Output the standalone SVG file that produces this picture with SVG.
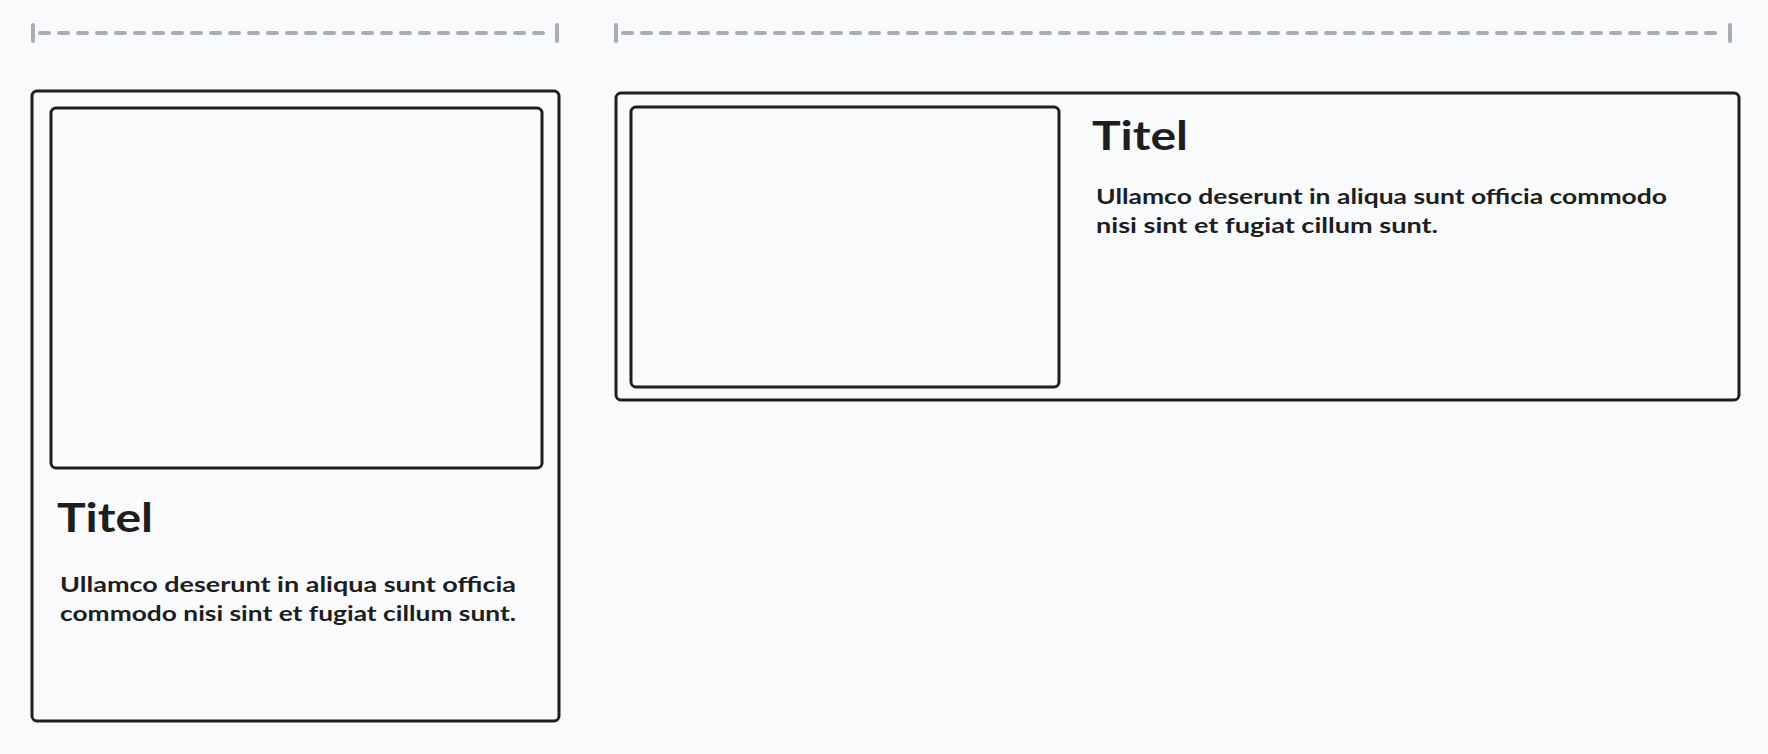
<svg xmlns="http://www.w3.org/2000/svg" width="1768" height="754" viewBox="0 0 1768 754">
<style>
.bg{fill:#f8fafc}
.card{fill:#f8fafc;stroke:#1e1e1e;stroke-width:3}
.dash{stroke:#a9adb4;stroke-width:4;stroke-linecap:round;stroke-dasharray:9 10;fill:none}
.tick{stroke:#a9adb4;stroke-width:4;stroke-linecap:round;fill:none}
.title{font-family:Lato,"Noto Sans",sans-serif;font-size:40px;font-weight:700;fill:#1e1e1e}
.body{font-family:Lato,"Noto Sans",sans-serif;font-size:21px;font-weight:700;fill:#1e1e1e}
</style>
<rect class="bg" x="0" y="0" width="1768" height="754"/>
<g id="connectors">
<g id="dim-left">
<line class="dash" x1="40" y1="33" x2="551" y2="33"/>
<line class="tick" x1="33" y1="25" x2="33" y2="41"/>
<line class="tick" x1="557" y1="25" x2="557" y2="41"/>
</g>
<g id="dim-right">
<line class="dash" x1="623" y1="33" x2="1724" y2="33"/>
<line class="tick" x1="616" y1="25" x2="616" y2="41"/>
<line class="tick" x1="1730" y1="25" x2="1730" y2="41"/>
</g>
</g>
<g id="card-vertical">
<rect class="card" x="32" y="91" width="527" height="630" rx="5"/>
<g id="card-vertical-image">
<rect class="card" x="51" y="108" width="491" height="360" rx="5"/>
</g>
<text class="title" x="57" y="532" textLength="96" lengthAdjust="spacingAndGlyphs">Titel</text>
<text class="body" x="60" y="592" textLength="456" lengthAdjust="spacingAndGlyphs">Ullamco deserunt in aliqua sunt officia</text>
<text class="body" x="60" y="621" textLength="456" lengthAdjust="spacingAndGlyphs">commodo nisi sint et fugiat cillum sunt.</text>
</g>
<g id="card-horizontal">
<rect class="card" x="616" y="93" width="1123" height="307" rx="5"/>
<g id="card-horizontal-image">
<rect class="card" x="631" y="107" width="428" height="280" rx="5"/>
</g>
<text class="title" x="1092" y="150" textLength="96" lengthAdjust="spacingAndGlyphs">Titel</text>
<text class="body" x="1096" y="204" textLength="571" lengthAdjust="spacingAndGlyphs">Ullamco deserunt in aliqua sunt officia commodo</text>
<text class="body" x="1096" y="233" textLength="342" lengthAdjust="spacingAndGlyphs">nisi sint et fugiat cillum sunt.</text>
</g>
</svg>
